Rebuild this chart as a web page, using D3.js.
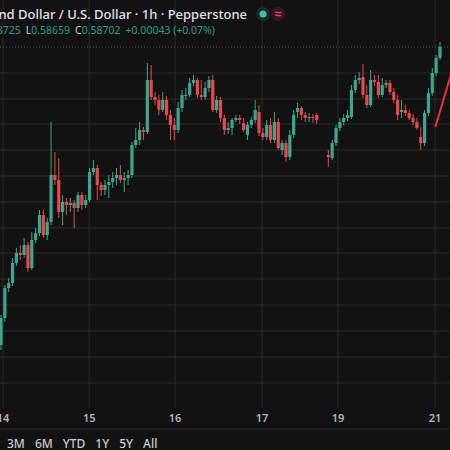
<!DOCTYPE html>
<html><head><meta charset="utf-8">
<script src="https://cdn.jsdelivr.net/npm/d3@7"></script>
<style>
html,body{margin:0;padding:0;background:#121212;overflow:hidden}
svg{display:block;font-family:"Noto Sans",sans-serif}
</style></head>
<body>
<div id="chart"></div>
<script>
// NZD/USD 1h candles (prices, price axis not visible)
const opens  = [0.58110,0.58164,0.58224,0.58234,0.58274,0.58294,0.58290,0.58310,0.58264,0.58320,0.58334,0.58370,0.58330,0.58356,0.58450,0.58440,0.58376,0.58396,0.58390,0.58394,0.58384,0.58410,0.58390,0.58400,0.58456,0.58464,0.58430,0.58420,0.58430,0.58436,0.58444,0.58450,0.58440,0.58444,0.58450,0.58510,0.58520,0.58540,0.58536,0.58640,0.58606,0.58600,0.58580,0.58600,0.58570,0.58550,0.58540,0.58584,0.58610,0.58610,0.58634,0.58640,0.58610,0.58606,0.58624,0.58640,0.58580,0.58600,0.58564,0.58540,0.58544,0.58560,0.58564,0.58554,0.58530,0.58550,0.58560,0.58576,0.58534,0.58526,0.58550,0.58520,0.58556,0.58500,0.58514,0.58486,0.58530,0.58576,0.58584,0.58570,0.58564,0.58566,0.58570,
                0.58490,0.58484,0.58514,0.58544,0.58556,0.58564,0.58566,0.58620,0.58640,0.58646,0.58610,0.58590,0.58640,0.58636,0.58610,0.58630,0.58634,0.58616,0.58600,0.58576,0.58580,0.58574,0.58564,0.58556,0.58526,0.58514,0.58574,0.58614,0.58654,0.58684];
const closes = [0.58164,0.58224,0.58234,0.58274,0.58294,0.58290,0.58310,0.58264,0.58320,0.58334,0.58370,0.58330,0.58356,0.58450,0.58440,0.58376,0.58396,0.58390,0.58394,0.58384,0.58410,0.58390,0.58400,0.58456,0.58464,0.58430,0.58420,0.58430,0.58436,0.58444,0.58450,0.58440,0.58444,0.58450,0.58510,0.58520,0.58540,0.58536,0.58640,0.58606,0.58600,0.58580,0.58600,0.58570,0.58550,0.58540,0.58584,0.58610,0.58610,0.58634,0.58640,0.58610,0.58606,0.58624,0.58640,0.58580,0.58600,0.58564,0.58540,0.58544,0.58560,0.58564,0.58560,0.58540,0.58550,0.58560,0.58580,0.58534,0.58526,0.58550,0.58520,0.58556,0.58504,0.58514,0.58486,0.58530,0.58570,0.58584,0.58570,0.58564,0.58566,0.58564,0.58560,
                0.58486,0.58514,0.58544,0.58556,0.58564,0.58570,0.58620,0.58640,0.58644,0.58610,0.58590,0.58640,0.58636,0.58610,0.58630,0.58634,0.58616,0.58600,0.58570,0.58580,0.58574,0.58564,0.58556,0.58544,0.58514,0.58574,0.58614,0.58654,0.58684,0.58706];
const highs  = [0.58170,0.58230,0.58244,0.58284,0.58304,0.58310,0.58324,0.58316,0.58336,0.58344,0.58380,0.58380,0.58364,0.58556,0.58496,0.58484,0.58410,0.58404,0.58404,0.58400,0.58416,0.58416,0.58410,0.58464,0.58480,0.58470,0.58436,0.58440,0.58450,0.58456,0.58464,0.58470,0.58456,0.58460,0.58516,0.58544,0.58556,0.58546,0.58674,0.58670,0.58616,0.58610,0.58616,0.58608,0.58580,0.58564,0.58596,0.58620,0.58624,0.58644,0.58650,0.58644,0.58640,0.58636,0.58648,0.58650,0.58608,0.58606,0.58570,0.58556,0.58564,0.58570,0.58570,0.58564,0.58556,0.58566,0.58600,0.58590,0.58544,0.58560,0.58564,0.58576,0.58564,0.58520,0.58520,0.58540,0.58580,0.58594,0.58588,0.58576,0.58574,0.58572,0.58574,
                0.58500,0.58520,0.58550,0.58564,0.58572,0.58580,0.58630,0.58650,0.58656,0.58672,0.58630,0.58660,0.58650,0.58650,0.58644,0.58640,0.58640,0.58624,0.58610,0.58600,0.58590,0.58580,0.58572,0.58564,0.58546,0.58580,0.58624,0.58664,0.58690,0.58716];
const lows   = [0.58100,0.58156,0.58216,0.58228,0.58268,0.58280,0.58284,0.58256,0.58260,0.58314,0.58328,0.58324,0.58320,0.58350,0.58430,0.58364,0.58350,0.58370,0.58376,0.58344,0.58376,0.58380,0.58384,0.58396,0.58450,0.58400,0.58408,0.58410,0.58404,0.58424,0.58430,0.58434,0.58416,0.58430,0.58444,0.58504,0.58510,0.58520,0.58532,0.58600,0.58590,0.58570,0.58576,0.58560,0.58520,0.58520,0.58534,0.58576,0.58600,0.58606,0.58628,0.58604,0.58600,0.58600,0.58616,0.58576,0.58574,0.58556,0.58530,0.58532,0.58530,0.58556,0.58552,0.58536,0.58520,0.58544,0.58554,0.58528,0.58520,0.58520,0.58514,0.58514,0.58500,0.58490,0.58476,0.58480,0.58524,0.58564,0.58560,0.58556,0.58556,0.58554,0.58552,
                0.58466,0.58480,0.58508,0.58538,0.58550,0.58558,0.58562,0.58614,0.58632,0.58604,0.58584,0.58586,0.58628,0.58604,0.58606,0.58624,0.58610,0.58594,0.58560,0.58564,0.58568,0.58560,0.58550,0.58540,0.58500,0.58508,0.58568,0.58608,0.58648,0.58680];
// weekend gap between Friday (17) and Monday (19), in candle slots
const gapAfter = 83, gapSlots = 2;
const dayTicks = [[0.5,"14"],[22.9,"15"],[45.2,"16"],[67.8,"17"],[87.5,"19"],[112.7,"21"]];
const gridPrices = [0.58654,0.58602,0.58552,0.58500,0.58448,0.58396,0.58344,0.58294,0.58242,0.58190,0.58138,0.58086,0.58034];
const lastPrice = 0.58706;
const trendLine = [[112.8,0.58546],[117.2,0.58660]];
const ranges = ["3M","6M","YTD","1Y","5Y","All"];

const W = 450, H = 450;
const green = "#3fa68a", red = "#e5484f";

const svg = d3.select("#chart").append("svg").attr("width", W).attr("height", H);
svg.append("rect").attr("width", W).attr("height", H).attr("fill", "#121212");

const x = d3.scaleLinear().domain([0, 114]).range([1, 440]);
const y = d3.scaleLinear().domain([0.588, 0.58]).range([0, 400]);

const candles = opens.map((o, i) => ({
  slot: i < gapAfter ? i : i + gapSlots,
  o, c: closes[i], h: highs[i], l: lows[i]
}));

// Grid
svg.append("g").selectAll("line").data(gridPrices).join("line")
  .attr("x1", 0).attr("x2", W).attr("y1", d => y(d)).attr("y2", d => y(d))
  .attr("stroke", "#2a2a2a").attr("stroke-width", 1);
svg.append("g").selectAll("line").data(dayTicks).join("line")
  .attr("x1", d => x(d[0])).attr("x2", d => x(d[0])).attr("y1", 0).attr("y2", 408)
  .attr("stroke", "#2a2a2a").attr("stroke-width", 1);

// last price dotted line
svg.append("line").attr("x1", 0).attr("x2", W).attr("y1", y(lastPrice)).attr("y2", y(lastPrice))
  .attr("stroke", "#555").attr("stroke-dasharray", "1,2");

// Candles
const g = svg.append("g");
g.selectAll("line").data(candles).join("line")
  .attr("x1", d => x(d.slot)).attr("x2", d => x(d.slot))
  .attr("y1", d => y(d.h)).attr("y2", d => y(d.l))
  .attr("stroke", d => d.c >= d.o ? green : red).attr("stroke-width", 1);
g.selectAll("rect").data(candles).join("rect")
  .attr("x", d => x(d.slot) - 1.6).attr("width", 3.2)
  .attr("y", d => y(Math.max(d.o, d.c)))
  .attr("height", d => Math.max(1, Math.abs(y(d.o) - y(d.c))))
  .attr("fill", d => d.c >= d.o ? green : red);

// red trend line
svg.append("line")
  .attr("x1", x(trendLine[0][0])).attr("y1", y(trendLine[0][1]))
  .attr("x2", x(trendLine[1][0])).attr("y2", y(trendLine[1][1]))
  .attr("stroke", "#e8323a").attr("stroke-width", 2);

// Time axis
svg.append("line").attr("x1", 0).attr("x2", W).attr("y1", 429).attr("y2", 429).attr("stroke", "#2a2a2a");
svg.append("g").selectAll("text").data(dayTicks).join("text")
  .attr("x", d => x(d[0])).attr("y", 422).attr("text-anchor", "middle")
  .attr("fill", "#b2b5be").attr("font-size", 11).attr("font-weight", 600)
  .text(d => d[1]);

// range buttons
let bx = 7;
ranges.forEach(r => {
  const t = svg.append("text").attr("x", bx).attr("y", 448).attr("fill", "#c8cad0")
    .attr("font-size", 12).attr("font-weight", 500).text(r);
  bx += t.node().getComputedTextLength() + 10;
});

// Header
svg.append("text").attr("x", 247).attr("y", 19).attr("text-anchor", "end")
  .attr("fill", "#e0e3eb").attr("font-size", 13).attr("font-weight", 500)
  .text("New Zealand Dollar / U.S. Dollar · 1h · Pepperstone");
svg.append("circle").attr("cx", 263).attr("cy", 14).attr("r", 7).attr("fill", "#1d2a27");
svg.append("circle").attr("cx", 263).attr("cy", 14).attr("r", 3.5).attr("fill", "#3fbf9a");
svg.append("circle").attr("cx", 278).attr("cy", 14).attr("r", 7).attr("fill", "#3a1620");
svg.append("text").attr("x", 278).attr("y", 18).attr("text-anchor", "middle")
  .attr("fill", "#e0476b").attr("font-size", 12).attr("font-weight", 700).text("≈");

const ohlc = svg.append("text").attr("x", 215).attr("y", 34).attr("text-anchor", "end")
  .attr("font-size", 10.5);
[["H", "0.58725"], ["L", "0.58659"], ["C", "0.58702"]].forEach(([k, v], i) => {
  ohlc.append("tspan").attr("fill", "#c8cad0").attr("dx", i ? 5 : 0).text(k);
  ohlc.append("tspan").attr("fill", "#2a9d80").text(v);
});
ohlc.append("tspan").attr("fill", "#2a9d80").attr("dx", 5).text("+0.00043 (+0.07%)");
</script>
</body></html>
